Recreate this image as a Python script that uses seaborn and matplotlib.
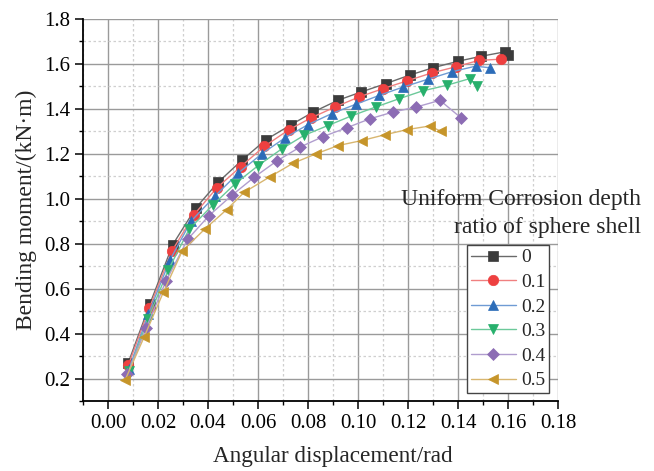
import matplotlib
matplotlib.use("Agg")
import matplotlib.pyplot as plt
from matplotlib.ticker import MultipleLocator, FormatStrFormatter
import pandas as pd
import seaborn as sns

# Corrosion depth ratios and their curves (angular displacement in rad, moment in kN·m)
RATIOS = ["0", "0.1", "0.2", "0.3", "0.4", "0.5"]

X_00 = [0.0081, 0.0168, 0.0259, 0.0351, 0.0441, 0.0537, 0.0632, 0.0730, 0.0821,
        0.0919, 0.1012, 0.1110, 0.1206, 0.1300, 0.1400, 0.1492, 0.1588, 0.1600]
Y_00 = [0.270, 0.533, 0.796, 0.959, 1.074, 1.173, 1.263, 1.328, 1.386,
        1.438, 1.475, 1.512, 1.550, 1.583, 1.612, 1.634, 1.654, 1.642]

X_01 = [0.0081, 0.0165, 0.0255, 0.0344, 0.0435, 0.0531, 0.0625, 0.0722, 0.0812,
        0.0908, 0.1004, 0.1100, 0.1197, 0.1295, 0.1390, 0.1484, 0.1570]
Y_01 = [0.258, 0.512, 0.766, 0.929, 1.048, 1.143, 1.233, 1.306, 1.360,
        1.408, 1.453, 1.490, 1.525, 1.560, 1.587, 1.616, 1.621]

X_02 = [0.0084, 0.0161, 0.0248, 0.0332, 0.0428, 0.0521, 0.0615, 0.0708, 0.0800,
        0.0895, 0.0990, 0.1085, 0.1180, 0.1280, 0.1375, 0.1470, 0.1528]
Y_02 = [0.243, 0.486, 0.728, 0.900, 1.012, 1.114, 1.200, 1.271, 1.330,
        1.379, 1.420, 1.460, 1.497, 1.532, 1.565, 1.590, 1.583]

X_03 = [0.0084, 0.0159, 0.0241, 0.0325, 0.0419, 0.0508, 0.0601, 0.0695, 0.0784,
        0.0880, 0.0972, 0.1070, 0.1164, 0.1258, 0.1355, 0.1448, 0.1475]
Y_03 = [0.233, 0.463, 0.683, 0.865, 0.972, 1.066, 1.148, 1.222, 1.282,
        1.326, 1.368, 1.408, 1.445, 1.480, 1.505, 1.535, 1.502]

X_04 = [0.0077, 0.0152, 0.0232, 0.0319, 0.0404, 0.0495, 0.0585, 0.0675, 0.0768,
        0.0861, 0.0955, 0.1048, 0.1140, 0.1232, 0.1328, 0.1412]
Y_04 = [0.218, 0.423, 0.634, 0.820, 0.925, 1.015, 1.096, 1.168, 1.230,
        1.277, 1.316, 1.356, 1.386, 1.408, 1.438, 1.360]

X_05 = [0.0068, 0.0145, 0.0221, 0.0297, 0.0388, 0.0475, 0.0545, 0.0648, 0.0740,
        0.0832, 0.0921, 0.1015, 0.1108, 0.1197, 0.1288, 0.1332]
Y_05 = [0.192, 0.386, 0.583, 0.768, 0.866, 0.952, 1.029, 1.098, 1.158,
        1.200, 1.237, 1.259, 1.285, 1.308, 1.324, 1.300]

XS = [X_00, X_01, X_02, X_03, X_04, X_05]
YS = [Y_00, Y_01, Y_02, Y_03, Y_04, Y_05]

MARKER_COLORS = ["#3b3b3b", "#ee4040", "#2c6cb8", "#27b06c", "#8c6cb4", "#c6952a"]
LINE_COLORS = ["#6a6a6a", "#f08080", "#6f9bd4", "#6cc99a", "#b09dce", "#d8b670"]
MARKERS = ["s", "o", "^", "v", "D", "<"]
MSIZES = [7, 7.5, 7.5, 7.5, 6.5, 7.5]

sns.set_theme(style="ticks")
plt.rcParams["font.family"] = ["Liberation Serif", "DejaVu Serif"]

fig = plt.figure(figsize=(6.54, 4.71), dpi=100)
ax = fig.add_axes([83 / 654, 70 / 471, 475 / 654, 382 / 471])

for ratio, xs, ys, mc, lc, mk, ms in zip(RATIOS, XS, YS, MARKER_COLORS,
                                          LINE_COLORS, MARKERS, MSIZES):
    df = pd.DataFrame({"x": xs, "y": ys})
    sns.lineplot(data=df, x="x", y="y", sort=False, estimator=None, ax=ax,
                 color=lc, linewidth=1.0, marker=mk, markersize=ms,
                 markerfacecolor=mc, markeredgecolor=mc, markeredgewidth=0.5,
                 label=ratio, zorder=3)

ax.set_xlim(-0.01, 0.18)
ax.set_ylim(0.1, 1.8)
ax.xaxis.set_major_locator(MultipleLocator(0.02))
ax.xaxis.set_minor_locator(MultipleLocator(0.01))
ax.yaxis.set_major_locator(MultipleLocator(0.2))
ax.yaxis.set_minor_locator(MultipleLocator(0.1))
ax.xaxis.set_major_formatter(FormatStrFormatter("%.2f"))
ax.yaxis.set_major_formatter(FormatStrFormatter("%.1f"))

ax.grid(which="major", color="#9a9a9a", linewidth=1.0, linestyle="-")
ax.grid(which="minor", color="#cfcfcf", linewidth=0.9, linestyle=(0, (2, 2)))
ax.set_axisbelow(True)

for side in ("top", "right"):
    ax.spines[side].set_visible(False)
for side in ("left", "bottom"):
    ax.spines[side].set_color("black")
    ax.spines[side].set_linewidth(1.3)

ax.tick_params(which="major", direction="out", length=6, width=1.1,
               colors="black", labelsize=15, pad=3)
ax.tick_params(which="minor", direction="out", length=3, width=1.0, colors="black")

ax.set_xlabel("Angular displacement/rad", fontsize=16.7)
ax.set_ylabel("Bending moment/(kN·m)", fontsize=17)
ax.xaxis.label.set_va("center")
ax.xaxis.set_label_coords(0.526, -0.144)
ax.yaxis.set_label_coords(-0.097, 0.5)

leg = ax.legend(loc="lower right", bbox_to_anchor=(0.981, 0.021),
                borderaxespad=0, fontsize=14, frameon=True, fancybox=False,
                handlelength=2.3, handletextpad=0.28, labelspacing=0.36,
                borderpad=0.18)
leg.get_frame().set_edgecolor("#444444")
leg.get_frame().set_linewidth(1.0)
leg.get_frame().set_facecolor("white")
leg.get_frame().set_alpha(1)

fig.text(641 / 654, 1 - 199 / 471, "Uniform Corrosion depth", ha="right",
         va="center", fontsize=17)
fig.text(641 / 654, 1 - 228 / 471, "ratio of sphere shell", ha="right",
         va="center", fontsize=17)

fig.savefig("out.png", dpi=100)
